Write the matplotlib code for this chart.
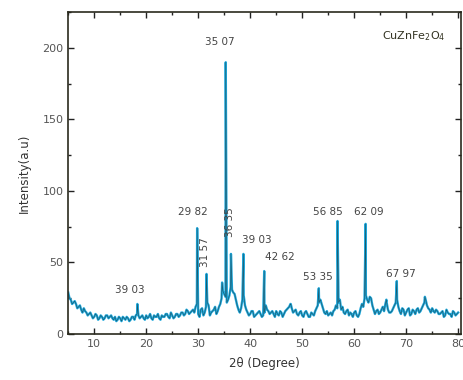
import matplotlib
matplotlib.use("Agg")
import matplotlib.pyplot as plt
from matplotlib.ticker import MultipleLocator
import numpy as np

# baseline read every 0.5 degree from 5 to 80
base_theta = [5.0 + 0.5 * i for i in range(151)]
base_counts = [
    29, 24, 22, 21, 19, 17, 18, 15, 14, 13,
    12, 13, 11, 12, 11, 13, 12, 11, 12, 10,
    11, 12, 10, 11, 10, 12, 13, 13, 12, 11,
    13, 12, 11, 13, 12, 11, 13, 12, 14, 11,
    13, 12, 14, 13, 15, 14, 16, 15, 17, 19,
    14, 17, 13, 19, 20, 15, 17, 14, 19, 25,
    28, 22, 27, 31, 28, 20, 15, 24, 20, 15,
    14, 16, 13, 15, 14, 13, 20, 16, 15, 14,
    16, 13, 15, 14, 17, 19, 18, 16, 14, 15,
    13, 15, 14, 12, 14, 16, 20, 24, 18, 14,
    13, 15, 16, 20, 22, 17, 15, 16, 13, 14,
    15, 13, 14, 21, 25, 24, 26, 20, 14, 17,
    15, 19, 21, 17, 15, 18, 22, 19, 14, 17,
    15, 18, 14, 16, 17, 15, 18, 22, 20, 17,
    18, 15, 16, 14, 16, 13, 15, 14, 16, 13,
    15,
]

# in-between readings (5.25, 5.75, ... 79.75) for the noise
mid_theta = [5.25 + 0.5 * i for i in range(150)]
mid_counts = [
    25, 21, 23, 18, 20, 15, 16, 13, 15, 11,
    14, 10, 13, 10, 13, 11, 13, 10, 9, 12,
    9, 11, 12, 9, 12, 10, 14, 11, 13, 10,
    11, 14, 10, 12, 14, 10, 12, 14, 12, 15,
    11, 14, 12, 15, 13, 17, 14, 16, 15, 21,
    12, 18, 15, 22, 13, 16, 19, 16, 21, 30,
    26, 24, 33, 29, 24, 17, 18, 27, 17, 13,
    16, 12, 14, 16, 12, 15, 17, 14, 16, 12,
    14, 16, 12, 16, 18, 21, 15, 17, 13, 16,
    12, 16, 12, 15, 13, 18, 22, 21, 15, 16,
    14, 13, 17, 18, 24, 19, 14, 17, 15, 12,
    16, 12, 18, 19, 27, 22, 25, 17, 16, 14,
    17, 16, 22, 15, 16, 20, 24, 16, 18, 13,
    17, 13, 17, 14, 18, 16, 20, 24, 18, 15,
    16, 17, 14, 15, 12, 17, 14, 12, 15, 14,
]

# sharp reflections (position, top)
peak_theta = [18.3, 29.8, 31.6, 34.6, 35.3, 36.3, 38.7, 42.7, 47.8,
              53.2, 56.8, 62.2, 66.2, 68.2, 73.6]
peak_counts = [21, 74, 42, 36, 190, 56, 56, 44, 21, 32, 79, 77, 24, 37, 26]

label_texts = ["39 03", "29 82", "31 57", "35 07", "36 35", "39 03",
               "42 62", "53 35", "56 85", "62 09", "67 97"]

theta = np.array(base_theta + mid_theta + peak_theta)
counts = np.array(base_counts + mid_counts + peak_counts)
order = np.argsort(theta)
theta, counts = theta[order], counts[order]

fig = plt.figure(figsize=(4.64, 3.80), dpi=100)
ax = fig.add_axes([0.147, 0.121, 0.846, 0.847])

ax.plot(theta, counts, color="#1ea8dc", lw=1.7, solid_joinstyle="round")
ax.plot(theta, counts, color="#1d3d45", lw=0.45, alpha=0.75)

ax.set_xlim(5, 80.5)
ax.set_ylim(0, 225)
ax.xaxis.set_major_locator(MultipleLocator(10))
ax.xaxis.set_minor_locator(MultipleLocator(5))
ax.yaxis.set_major_locator(MultipleLocator(50))
ax.yaxis.set_minor_locator(MultipleLocator(25))
ax.tick_params(which="both", direction="in", top=True, right=True,
               colors="#222222", labelcolor="#555555", labelsize=8)
ax.tick_params(which="major", length=4, width=1)
ax.tick_params(which="minor", length=2, width=1)
for sp in ax.spines.values():
    sp.set_color("#2a2a1e")
    sp.set_linewidth(1.2)

ax.set_xlabel("2θ (Degree)", fontsize=8.5, color="#333333", labelpad=6)
ax.set_ylabel("Intensity(a.u)", fontsize=8.5, color="#333333", labelpad=8)

txt = dict(fontsize=7.5, color="#444444", ha="center", va="center")
label_pos = [(16.9, 31), (29.0, 85), (31.3, 57), (34.2, 204), (36.2, 78),
             (41.3, 66), (45.8, 54), (53.1, 40), (55.0, 85), (62.9, 85),
             (69.0, 42)]
for s, (x, y) in zip(label_texts, label_pos):
    rot = 90 if s in ("31 57", "36 35") else 0
    ax.text(x, y, s, rotation=rot, **txt)

ax.text(77.5, 208, r"CuZnFe$_2$O$_4$", fontsize=8, color="#333322",
        ha="right", va="center")

fig.savefig("out.png", dpi=100)
